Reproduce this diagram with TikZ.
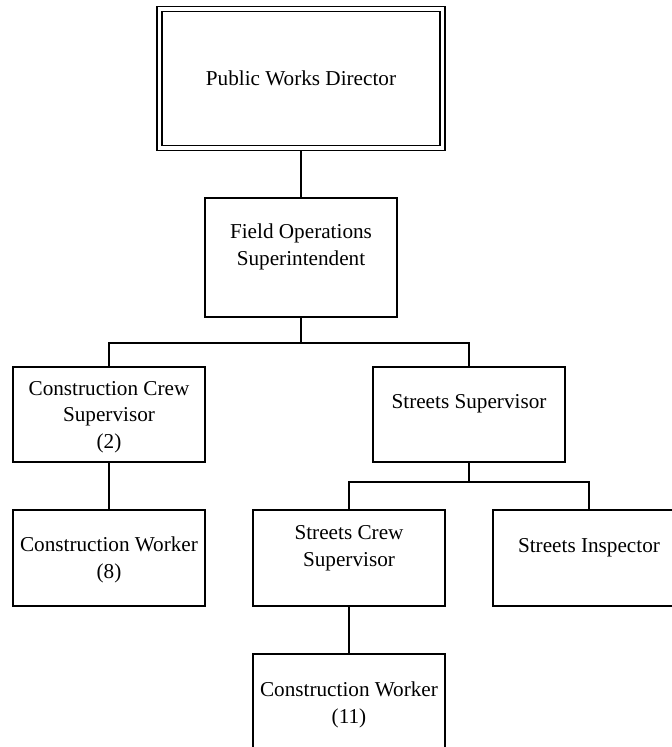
\documentclass[tikz,border=0pt]{standalone}
\usepackage{fontspec}
\setmainfont{Liberation Serif}
\begin{document}
\begin{tikzpicture}[x=1pt, y=-1pt,
  box/.style={draw, line width=1.6pt, rectangle, inner sep=0pt,
    minimum width=192pt, minimum height=95pt},
  topbox/.style={draw, line width=1.6pt, double, double distance=3.4pt,
    rectangle, inner sep=0pt, outer sep=2.5pt,
    minimum width=283pt, minimum height=139pt},
  lbl/.style={anchor=base, align=center, inner sep=0pt,
    font=\fontsize{21.2}{26.4}\selectfont},
  link/.style={line width=1.6pt}]
\useasboundingbox (0,0) rectangle (672,747);
\clip (0,0) rectangle (672,747);

% boxes
\node[topbox] (pwd) at (301,78.5) {};
\node[box, minimum height=119pt] (fops) at (301,257.5) {};
\node[box] (ccs) at (109,414.5) {};
\node[box] (ss) at (469,414.5) {};
\node[box, minimum height=96pt] (cw8) at (109,558) {};
\node[box, minimum height=96pt] (scs) at (349,558) {};
\node[box, minimum height=96pt] (si) at (589,558) {};
\node[box, minimum height=96pt] (cw11) at (349,702) {};

% labels (base anchor sits on the last line)
\node[lbl] (pwdt) at (301,85) {Public Works Director};
\node[lbl] (fopst) at (301,265) {Field Operations\\Superintendent};
\node[lbl] (ccst) at (109,448) {Construction Crew\\Supervisor\\(2)};
\node[lbl] (sst) at (469,408) {Streets Supervisor};
\node[lbl] (cw8t) at (109,578) {Construction Worker\\(8)};
\node[lbl] (scst) at (349,566) {Streets Crew\\Supervisor};
\node[lbl] (sit) at (589,552) {Streets Inspector};
\node[lbl] (cw11t) at (349,723) {Construction Worker\\(11)};

% junctions
\coordinate (j1) at (301,343);
\coordinate (j2) at (469,482);

% connectors
\draw[link] (pwd.south) -- (fops.north);
\draw[link] (fops.south) -- (j1);
\draw[link] (ccs.north) |- (j1) -| (ss.north);
\draw[link] (ss.south) -- (j2);
\draw[link] (scs.north) |- (j2) -| (si.north);
\draw[link] (ccs.south) -- (cw8.north);
\draw[link] (scs.south) -- (cw11.north);
\end{tikzpicture}
\end{document}
